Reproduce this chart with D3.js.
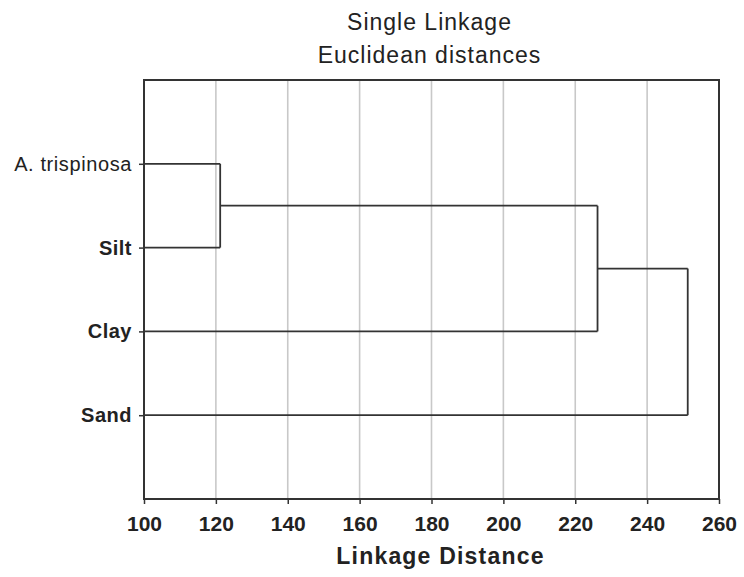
<!DOCTYPE html>
<html>
<head>
<meta charset="utf-8">
<script src="https://cdn.jsdelivr.net/npm/d3@7"></script>
<style>
  html, body { margin: 0; padding: 0; background: #fff; }
  svg { display: block; font-family: "Liberation Sans", Arial, Helvetica, sans-serif; }
</style>
</head>
<body>
<svg id="chart" width="744" height="577"></svg>
<script>
// ---- data ----
const titleLines = ["Single Linkage", "Euclidean distances"];
const xAxisTitle = "Linkage Distance";
const leaves = ["A. trispinosa", "Silt", "Clay", "Sand"];
// linkage rows: [childA, childB, distance]; indices >= leaves.length refer to earlier merges
const linkage = [
  [0, 1, 121.2],
  [4, 2, 226.2],
  [5, 3, 251.3]
];
const xTicks = [100, 120, 140, 160, 180, 200, 220, 240, 260];
const xDomain = [100, 260];

// ---- layout ----
const svg = d3.select("#chart");
const mLeft = 144, mRight = 719, mTop = 80, mBottom = 499;
const x = d3.scaleLinear().domain(xDomain).range([mLeft, mRight]);
const y = d3.scaleLinear().domain([0, leaves.length + 1]).range([mTop, mBottom]);

// gridlines
svg.append("g").selectAll("line")
  .data(xTicks.filter(t => t > xDomain[0] && t < xDomain[1]))
  .join("line")
  .attr("x1", d => x(d)).attr("x2", d => x(d))
  .attr("y1", mTop).attr("y2", mBottom)
  .attr("stroke", "#c8c8c8").attr("stroke-width", 1.6);

// compute node positions
const nodes = leaves.map((name, i) => ({ pos: y(i + 1), h: xDomain[0] }));
const g = svg.append("g").attr("fill", "none").attr("stroke", "#333").attr("stroke-width", 1.8);
linkage.forEach(([a, b, d]) => {
  const na = nodes[a], nb = nodes[b];
  [na, nb].forEach(n => {
    g.append("line").attr("x1", x(n.h)).attr("x2", x(d)).attr("y1", n.pos).attr("y2", n.pos);
  });
  g.append("line").attr("x1", x(d)).attr("x2", x(d)).attr("y1", na.pos).attr("y2", nb.pos);
  nodes.push({ pos: (na.pos + nb.pos) / 2, h: d });
});

// frame
svg.append("rect")
  .attr("x", mLeft).attr("y", mTop).attr("width", mRight - mLeft).attr("height", mBottom - mTop)
  .attr("fill", "none").attr("stroke", "#333").attr("stroke-width", 2);

// x axis
const xAxis = d3.axisBottom(x).tickValues(xTicks).tickSize(5).tickPadding(12).tickFormat(d3.format("d"));
const xg = svg.append("g").attr("transform", `translate(0,${mBottom})`).call(xAxis);
xg.select(".domain").remove();
xg.selectAll(".tick line").attr("stroke", "#333").attr("stroke-width", 1.5);
xg.selectAll(".tick text")
  .attr("fill", "#222").attr("font-size", 21).attr("font-weight", "bold")
  .attr("font-family", "Liberation Sans, Arial, sans-serif");

// y axis (leaf labels)
const yAxis = d3.axisLeft(y).tickValues(leaves.map((_, i) => i + 1)).tickSize(5).tickPadding(7)
  .tickFormat(i => leaves[i - 1]);
const yg = svg.append("g").attr("transform", `translate(${mLeft},0)`).call(yAxis);
yg.select(".domain").remove();
yg.selectAll(".tick line").attr("stroke", "#333").attr("stroke-width", 1.5);
yg.selectAll(".tick text")
  .attr("fill", "#222").attr("font-size", 20)
  .attr("font-family", "Liberation Sans, Arial, sans-serif")
  .attr("font-weight", (d, i) => i === 0 ? "normal" : "bold")
  .attr("letter-spacing", (d, i) => i === 0 ? 0.6 : 0.5);

// title
const cx = (mLeft + mRight) / 2;
svg.append("g").selectAll("text").data(titleLines).join("text")
  .attr("x", cx - 2).attr("y", (d, i) => 30 + i * 33)
  .attr("text-anchor", "middle").attr("font-size", 23).attr("letter-spacing", 1)
  .attr("fill", "#222").text(d => d);

// x axis title
svg.append("text")
  .attr("x", cx + 9).attr("y", 564)
  .attr("text-anchor", "middle").attr("font-size", 23).attr("font-weight", "bold")
  .attr("letter-spacing", 1.2).attr("fill", "#222").text(xAxisTitle);
</script>
</body>
</html>
